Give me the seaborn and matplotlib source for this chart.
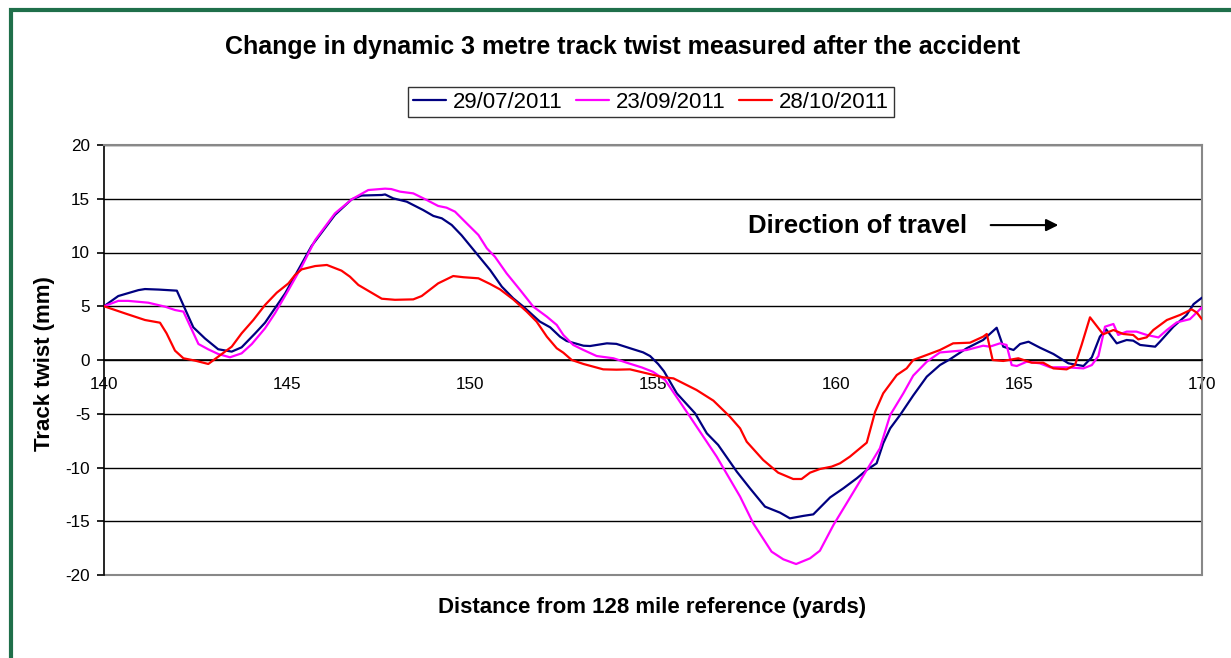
import numpy as np
import pandas as pd
import matplotlib
matplotlib.use("Agg")
import matplotlib.pyplot as plt
import matplotlib.patches as patches
import seaborn as sns

# ---------------- data ----------------
series_names = ["29/07/2011", "23/09/2011", "28/10/2011"]
series_colors = ["#000080", "#FF00FF", "#FF0000"]

x_jul = [140, 140.39, 140.94, 141.12, 141.5, 141.99, 142.44, 142.76, 143.12, 143.49, 143.76,
         144.13, 144.4, 144.95, 145.67, 146.31, 146.77, 147.04, 147.59, 147.68, 147.9,
         148.27, 148.72, 149.0, 149.23, 149.5, 149.77, 150.18, 150.55, 150.87, 151.18,
         151.46, 151.91, 152.19, 152.46, 152.64, 153.1, 153.28, 153.74, 154.0, 154.46,
         154.73, 154.92, 155.14, 155.3, 155.65, 156.15, 156.47, 156.78, 157.29, 157.65,
         158.06, 158.47, 158.74, 159.11, 159.38, 159.84, 160.2, 160.57, 160.84, 161.11,
         161.29, 161.48, 161.75, 162.11, 162.48, 162.84, 163.11, 163.57, 164.02, 164.39,
         164.57, 164.85, 165.03, 165.26, 165.57, 165.94, 166.35, 166.76, 166.99, 167.21,
         167.38, 167.67, 167.94, 168.12, 168.31, 168.72, 168.85, 169.22, 169.58, 169.77, 170]
y_jul = [5.0, 5.95, 6.5, 6.6, 6.55, 6.45, 3.04, 2.0, 1.0, 0.78, 1.18,
         2.48, 3.47, 6.2, 10.6, 13.5, 14.95, 15.3, 15.35, 15.4, 15.04,
         14.73, 13.95, 13.4, 13.18, 12.56, 11.6, 9.9, 8.37, 6.82, 5.74,
         4.96, 3.57, 3.04, 2.17, 1.77, 1.33, 1.3, 1.55, 1.5, 1.0,
         0.71, 0.37, -0.37, -1.05, -3.1, -4.96, -6.82, -7.9, -10.39, -11.94,
         -13.64, -14.2, -14.73, -14.5, -14.36, -12.78, -11.94, -11.0, -10.23, -9.61,
         -7.75, -6.36, -5.12, -3.3, -1.55, -0.47, 0.06, 1.09, 1.86, 3.0,
         1.24, 0.93, 1.49, 1.7, 1.15, 0.56, -0.31, -0.56, 0.25, 2.17,
         2.85, 1.55, 1.86, 1.8, 1.4, 1.24, 1.7, 3.1, 4.19, 5.2, 5.8]

x_sep = [140, 140.39, 140.66, 141.21, 141.67, 141.94, 142.17, 142.58, 142.85, 143.12, 143.44,
         143.76, 144.04, 144.4, 144.67, 145.04, 145.4, 145.77, 146.31, 146.77, 147.22,
         147.68, 147.85, 148.09, 148.45, 148.82, 149.13, 149.36, 149.59, 149.91, 150.23,
         150.46, 150.68, 151.0, 151.37, 151.73, 152.1, 152.37, 152.55, 152.82, 153.1,
         153.46, 153.92, 154.28, 154.7, 155.0, 155.33, 156.01, 156.74, 157.38, 157.74,
         158.24, 158.56, 158.91, 159.29, 159.56, 159.93, 160.29, 160.84, 161.2, 161.48,
         161.84, 162.11, 162.48, 162.84, 163.3, 163.57, 164.02, 164.2, 164.48, 164.66,
         164.8, 164.94, 165.21, 165.57, 165.85, 166.3, 166.76, 166.99, 167.17, 167.35,
         167.58, 167.71, 167.94, 168.21, 168.49, 168.81, 169.04, 169.31, 169.67, 170]
y_sep = [5.0, 5.5, 5.5, 5.33, 4.96, 4.65, 4.5, 1.49, 0.99, 0.56, 0.25,
         0.62, 1.49, 2.95, 4.34, 6.51, 8.68, 11.16, 13.64, 14.95, 15.81,
         15.94, 15.9, 15.66, 15.5, 14.88, 14.33, 14.17, 13.8, 12.71, 11.63,
         10.39, 9.61, 8.06, 6.51, 4.96, 4.03, 3.26, 2.33, 1.4, 0.93,
         0.37, 0.16, -0.25, -0.7, -1.1, -1.86, -5.27, -8.99, -12.71, -15.2,
         -17.83, -18.54, -18.98, -18.45, -17.74, -15.35, -13.33, -10.23, -8.21, -5.12,
         -3.1, -1.45, -0.16, 0.7, 0.84, 0.93, 1.33, 1.24, 1.55, 1.4,
         -0.47, -0.56, -0.16, -0.31, -0.68, -0.68, -0.78, -0.47, 0.37, 3.1,
         3.35, 2.33, 2.64, 2.64, 2.33, 2.1, 2.79, 3.5, 3.8, 4.9]

x_oct = [140, 140.57, 141.12, 141.53, 141.71, 141.94, 142.17, 142.49, 142.85, 143.12, 143.49,
         143.76, 144.08, 144.4, 144.72, 145.04, 145.22, 145.4, 145.77, 146.09, 146.49,
         146.72, 146.95, 147.31, 147.59, 147.95, 148.45, 148.68, 149.13, 149.54, 149.82,
         150.23, 150.55, 150.82, 151.18, 151.55, 151.82, 152.1, 152.37, 152.55, 152.78,
         153.1, 153.64, 154.0, 154.37, 154.83, 155.28, 155.56, 156.19, 156.65, 157.1,
         157.38, 157.56, 158.01, 158.42, 158.83, 159.06, 159.29, 159.56, 159.88, 160.11,
         160.38, 160.84, 161.07, 161.29, 161.66, 161.93, 162.11, 162.48, 162.84, 163.2,
         163.66, 164.02, 164.12, 164.28, 164.57, 164.98, 165.35, 165.66, 165.94, 166.3,
         166.53, 166.71, 166.94, 167.3, 167.58, 167.85, 168.12, 168.26, 168.49, 168.67,
         169.04, 169.4, 169.72, 169.86, 170]
y_oct = [5.0, 4.34, 3.72, 3.47, 2.48, 0.87, 0.16, -0.06, -0.37, 0.31, 1.24,
         2.48, 3.72, 5.12, 6.26, 7.13, 7.91, 8.43, 8.74, 8.84, 8.31,
         7.75, 6.98, 6.26, 5.7, 5.6, 5.64, 5.95, 7.13, 7.81, 7.7,
         7.6, 7.07, 6.57, 5.64, 4.5, 3.57, 2.17, 1.09, 0.68, 0.0,
         -0.37, -0.87, -0.9, -0.87, -1.24, -1.61, -1.71, -2.79, -3.78, -5.27,
         -6.36, -7.6, -9.3, -10.48, -11.07, -11.07, -10.48, -10.14, -9.92, -9.61,
         -8.99, -7.69, -4.81, -3.1, -1.4, -0.78, 0.0, 0.47, 0.93, 1.55,
         1.61, 2.17, 2.42, 0.0, -0.09, 0.16, -0.25, -0.25, -0.78, -0.87,
         -0.47, 1.4, 3.97, 2.39, 2.79, 2.42, 2.33, 1.92, 2.11, 2.79,
         3.72, 4.19, 4.71, 4.4, 3.78]

x_ticks = [140, 145, 150, 155, 160, 165, 170]
y_ticks = [-20, -15, -10, -5, 0, 5, 10, 15, 20]

title_text = "Change in dynamic 3 metre track twist measured after the accident"
x_label = "Distance from 128 mile reference (yards)"
y_label = "Track twist (mm)"
note_text = "Direction of travel"

# ---------------- build long table ----------------
frames = []
for name, xs, ys in zip(series_names, [x_jul, x_sep, x_oct], [y_jul, y_sep, y_oct]):
    frames.append(pd.DataFrame({"distance": xs, "twist": ys, "date": name}))
df = pd.concat(frames, ignore_index=True)

# ---------------- style ----------------
sns.set_style("white")
plt.rcParams["font.family"] = ["Liberation Sans", "DejaVu Sans"]
plt.rcParams["text.color"] = "black"
plt.rcParams["axes.labelcolor"] = "black"
plt.rcParams["xtick.color"] = "black"
plt.rcParams["ytick.color"] = "black"

W, H = 1231, 658
fig = plt.figure(figsize=(W / 100, H / 100), dpi=100)
ax = fig.add_axes([104 / W, 1 - 575 / H, 1098 / W, 430 / H])

sns.lineplot(data=df, x="distance", y="twist", hue="date", hue_order=series_names,
             palette=dict(zip(series_names, series_colors)), estimator=None,
             sort=False, linewidth=1.6, ax=ax, legend=False, zorder=3)

ax.set_xlim(140, 170)
ax.set_ylim(-20, 20)
ax.set_xticks(x_ticks)
ax.set_yticks(y_ticks)
ax.set_xticklabels([str(t) for t in x_ticks])
ax.set_yticklabels([str(t) for t in y_ticks])
ax.set_xlabel("")
ax.set_ylabel("")

# gridlines
ax.yaxis.grid(True, color="black", linewidth=1.0)
ax.xaxis.grid(False)
ax.set_axisbelow(True)

# spines
ax.spines["bottom"].set_position(("data", 0))
ax.spines["bottom"].set_color("black")
ax.spines["bottom"].set_linewidth(1.2)
ax.spines["left"].set_color("black")
ax.spines["left"].set_linewidth(1.2)
ax.spines["top"].set_color("#888888")
ax.spines["top"].set_linewidth(1.5)
ax.spines["right"].set_color("#888888")
ax.spines["right"].set_linewidth(1.5)
ax.axhline(-20, color="#888888", linewidth=1.5, zorder=2, clip_on=False)

ax.tick_params(axis="x", direction="inout", length=9, width=1.2, color="black",
               labelcolor="black", labelsize=12.3, pad=8)
ax.tick_params(axis="y", direction="out", length=5, width=1.2, color="black",
               labelcolor="black", labelsize=12.3, pad=5, left=True)

# legend
handles = [plt.Line2D([], [], color=c, lw=1.6) for c in series_colors]
leg = fig.legend(handles, series_names, loc="center", bbox_to_anchor=(651 / W, 1 - 102 / H),
                 ncol=3, fontsize=16, frameon=True, fancybox=False, handlelength=1.5,
                 handletextpad=0.3, columnspacing=0.6, borderpad=0.2, borderaxespad=0,
                 labelcolor="black")
leg.get_frame().set_edgecolor("black")
leg.get_frame().set_linewidth(1.0)

# texts
fig.text(623 / W, 1 - 47 / H, title_text, ha="center", va="center",
         fontsize=18, fontweight="bold", color="black")
fig.text(652 / W, 1 - 608 / H, x_label, ha="center", va="center",
         fontsize=16, fontweight="bold", color="black")
fig.text(45 / W, 1 - 364 / H, y_label, ha="center", va="center", rotation=90,
         fontsize=16, fontweight="bold", color="black")

ax.text(157.6, 12.5, note_text, ha="left", va="center", fontsize=18.5,
        fontweight="bold", color="black")
ax.annotate("", xy=(166.15, 12.55), xytext=(164.15, 12.55),
            arrowprops=dict(arrowstyle="-|>", color="black", lw=1.5, mutation_scale=18))

# green outer border
fig.patches.append(patches.Rectangle((10.5 / W, -0.1), 1.2, 1 - 10.5 / H + 0.1,
                                     transform=fig.transFigure, fill=False,
                                     edgecolor="#1f6f4a", linewidth=3))

fig.savefig("out.png", dpi=100)
